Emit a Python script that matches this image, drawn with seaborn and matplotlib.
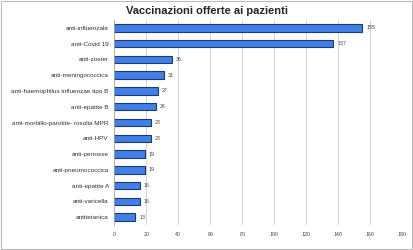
import matplotlib
matplotlib.use("Agg")
import matplotlib.pyplot as plt
import seaborn as sns
import pandas as pd

categories = ["anti-influenzale", "anti-Covid 19", "anti-zoster", "anti-meningococcica",
              "anti-haemophilus influenzae tipo B", "anti-epatite B",
              "anti-morbillo-parotite- rosolia MPR", "anti-HPV", "anti-pertosse",
              "anti-pneumococcica", "anti-epatite A", "anti-varicella", "antitetanica"]
values = [155, 137, 36, 31, 27, 26, 23, 23, 19, 19, 16, 16, 13]
xticks = [0, 20, 40, 60, 80, 100, 120, 140, 160, 180]

sns.set_style("white")
plt.rcParams['font.family'] = ['Liberation Sans', 'DejaVu Sans']

df = pd.DataFrame({"cat": categories, "val": values})
fig = plt.figure(figsize=(4.13, 2.5), dpi=100)
ax = fig.add_axes([0.277, 0.1, 0.697, 0.82])
sns.barplot(data=df, y="cat", x="val", orient="h", color="#3f7fe6",
            edgecolor="#1d3a78", linewidth=0.8, width=0.47, ax=ax, saturation=1)
ax.set_xlim(0, 180)
ax.set_xticks(xticks)
ax.set_xticklabels([str(t) for t in xticks], fontsize=3.8, color="#444444")
ax.tick_params(axis='y', labelsize=4.6, colors="#333333", length=0, pad=4)
ax.tick_params(axis='x', length=0, pad=5)
ax.set_xlabel("")
ax.set_ylabel("")
ax.xaxis.grid(True, color="#cccccc", linewidth=0.6)
ax.set_axisbelow(True)
for s in ["top", "right", "bottom"]:
    ax.spines[s].set_visible(False)
ax.spines["left"].set_color("#aaaaaa")
ax.spines["left"].set_linewidth(0.6)
for i, v in enumerate(values):
    ax.text(v + 2.5, i, str(v), va="center", ha="left", fontsize=3.8, color="#444444")
fig.text(0.5, 0.958, "Vaccinazioni offerte ai pazienti", ha="center", va="center",
         fontsize=8, fontweight="bold")
border = plt.Rectangle((0.003, 0.004), 0.994, 0.992, transform=fig.transFigure,
                       fill=False, edgecolor="#bbbbbb", linewidth=0.8)
fig.patches.append(border)
fig.savefig("out.png", dpi=100)
